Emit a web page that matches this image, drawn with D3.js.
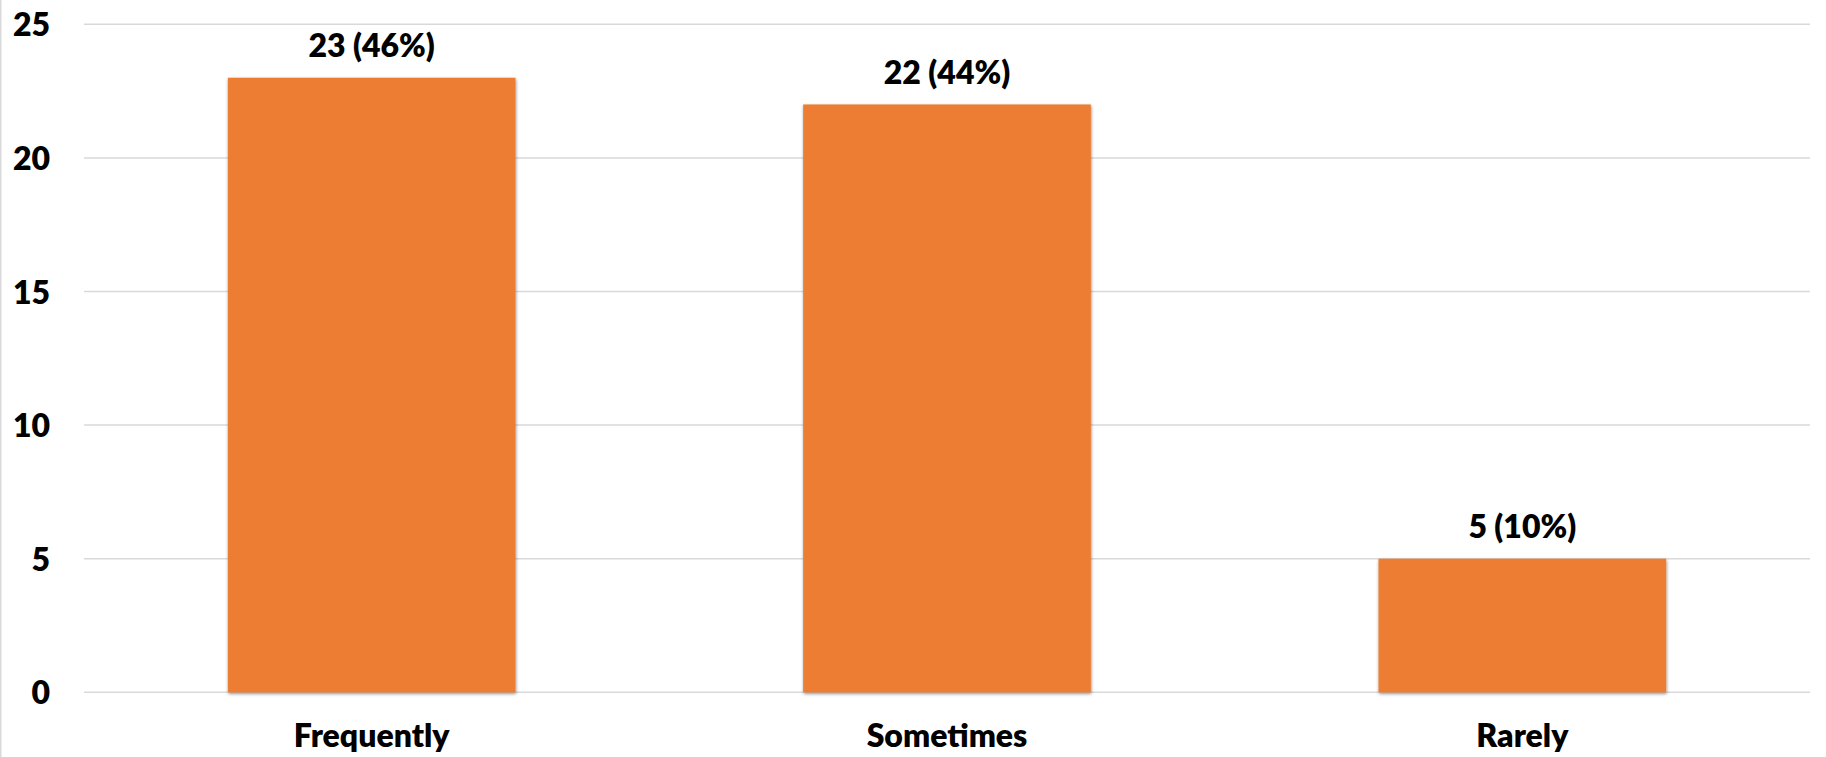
<!DOCTYPE html>
<html>
<head>
<meta charset="utf-8">
<script src="https://cdn.jsdelivr.net/npm/d3@7"></script>
<style>
  html, body { margin: 0; padding: 0; background: #fff; }
  svg { display: block; }
  text { font-family: Lato, "Open Sans", sans-serif; font-weight: 800; fill: #000; }
</style>
</head>
<body>
<svg id="chart" width="1826" height="757"></svg>
<script>
const categories = ["Frequently", "Sometimes", "Rarely"];
const values = [23, 22, 5];
const valueLabels = ["23 (46%)", "22 (44%)", "5 (10%)"];
const yTicks = [0, 5, 10, 15, 20, 25];

(function () {
const W = 1826, H = 757;
const mLeft = 84, mRight = 1810, mTop = 24.3, mBottom = 692.3;
const FS = 32;
const svg = d3.select("#chart");

const defs = svg.append("defs");
const f = defs.append("filter").attr("id", "shadow")
  .attr("x", "-5%").attr("y", "-5%").attr("width", "110%").attr("height", "110%");
f.append("feDropShadow").attr("dx", 0.5).attr("dy", 1.5).attr("stdDeviation", 1.8)
  .attr("flood-color", "#000").attr("flood-opacity", 0.45);

// chart border line at left
svg.append("line").attr("x1", 0.75).attr("x2", 0.75).attr("y1", 0).attr("y2", H)
  .attr("stroke", "#d9d9d9").attr("stroke-width", 1.5);

const x = d3.scaleBand().domain(categories).range([mLeft, mRight])
  .paddingInner(0.5).paddingOuter(0.25);
const y = d3.scaleLinear().domain([0, 25]).range([mBottom, mTop]);

// gridlines
svg.append("g").selectAll("line").data(yTicks).join("line")
  .attr("x1", mLeft).attr("x2", mRight)
  .attr("y1", d => y(d)).attr("y2", d => y(d))
  .attr("stroke", "#d9d9d9").attr("stroke-width", 1.5);

// y axis labels
const yAxis = d3.axisLeft(y).tickValues(yTicks).tickSize(0).tickPadding(0);
const gy = svg.append("g").attr("transform", "translate(50,0)").call(yAxis);
gy.select(".domain").remove();
gy.selectAll("text").attr("font-size", FS).attr("font-family", "Lato, sans-serif")
  .attr("font-weight", 800).attr("fill", "#000").attr("dy", "0.36em");

// bars
svg.append("g").selectAll("rect").data(categories).join("rect")
  .attr("x", d => x(d)).attr("width", x.bandwidth())
  .attr("y", (d, i) => y(values[i]))
  .attr("height", (d, i) => y(0) - y(values[i]))
  .attr("fill", "#ED7D31").attr("filter", "url(#shadow)");

// value labels
svg.append("g").selectAll("text").data(categories).join("text")
  .attr("x", d => x(d) + x.bandwidth() / 2)
  .attr("y", (d, i) => y(values[i]) - 20.5)
  .attr("text-anchor", "middle").attr("font-size", FS)
  .text((d, i) => valueLabels[i]);

// x axis labels
const xAxis = d3.axisBottom(x).tickSize(0).tickPadding(0);
const gx = svg.append("g").attr("transform", "translate(0,747)").call(xAxis);
gx.select(".domain").remove();
gx.selectAll("text").attr("font-size", FS).attr("font-family", "Lato, sans-serif")
  .attr("font-weight", 800).attr("fill", "#000").attr("dy", 0);
})();
</script>
</body>
</html>
